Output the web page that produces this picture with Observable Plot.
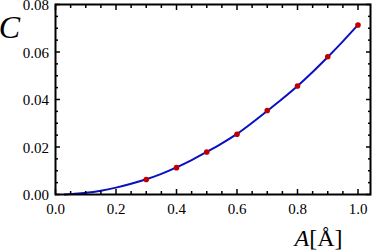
<!DOCTYPE html>
<html><head><meta charset="utf-8">
<script src="https://cdn.jsdelivr.net/npm/d3@7"></script>
<script src="https://cdn.jsdelivr.net/npm/@observablehq/plot@0.6"></script>
<style>body{margin:0;background:#fff}</style>
</head><body><div id="chart"></div>
<script>
// measured points
const pointA = [0.3, 0.4, 0.5, 0.6, 0.7, 0.8, 0.9, 1.0];
const pointC = [0.0063, 0.0113, 0.0179, 0.0254, 0.0354, 0.0457, 0.0580, 0.0714];
// fitted curve
const curveA = [0.03, 0.05, 0.1, 0.15, 0.2, 0.25, 0.3, 0.35, 0.4, 0.45, 0.5, 0.55, 0.6, 0.65, 0.7, 0.75, 0.8, 0.85, 0.9, 0.95, 1.0];
const curveC = [0.0, 0.0002, 0.0007, 0.0016, 0.0029, 0.0045, 0.0064, 0.0087, 0.0114, 0.0145, 0.0179, 0.0215, 0.0255, 0.0302, 0.0352, 0.0403, 0.0457, 0.0516, 0.0579, 0.0645, 0.0714];
// ticks
const xMajor = [0, 0.2, 0.4, 0.6, 0.8, 1.0];
const xMinor = [0.05, 0.1, 0.15, 0.25, 0.3, 0.35, 0.45, 0.5, 0.55, 0.65, 0.7, 0.75, 0.85, 0.9, 0.95];
const yMajor = [0, 0.02, 0.04, 0.06, 0.08];
const yMinor = [0.005, 0.01, 0.015, 0.025, 0.03, 0.035, 0.045, 0.05, 0.055, 0.065, 0.07, 0.075];
const xLabel = "A[Å]";
const yLabel = "C";

const points = pointA.map((a, i) => ({a, c: pointC[i]}));
const curve = curveA.map((a, i) => ({a, c: curveC[i]}));
const blank = () => "";
const serif = "Liberation Serif";
const fx = d3.format(".1f");
const fy = d3.format(".2f");

const plot = Plot.plot({
  width: 373, height: 252,
  marginLeft: 55, marginRight: 3, marginTop: 4, marginBottom: 58,
  style: {fontFamily: "Liberation Serif", background: "white"},
  x: {domain: [0, 1.0413], axis: null},
  y: {domain: [0, 0.08], axis: null},
  marks: [
    Plot.line(curve, {x: "a", y: "c", stroke: "#0a10c0", strokeWidth: 2, curve: "catmull-rom"}),
    Plot.dot(points, {x: "a", y: "c", r: 2.8, fill: "#c00000", stroke: "none"}),
    // tick labels (through the x / y scales)
    Plot.text(xMajor, {x: d => d, text: fx, frameAnchor: "bottom", dy: 15, lineAnchor: "middle", textAnchor: "middle", fontFamily: serif, fontSize: 15, fill: "black"}),
    Plot.text(yMajor, {y: d => d, text: fy, frameAnchor: "left", dx: -6.5, dy: 1, lineAnchor: "middle", textAnchor: "end", fontFamily: serif, fontSize: 15, fill: "black"}),
    // inward ticks (all four sides)
    Plot.axisX({ticks: xMajor, anchor: "bottom", tickSize: -5, tickPadding: 0, tickFormat: blank, label: null, strokeWidth: 1.5}),
    Plot.axisX({ticks: xMinor, anchor: "bottom", tickSize: -3, tickPadding: 0, tickFormat: blank, label: null, strokeWidth: 1.5}),
    Plot.axisX({ticks: xMajor, anchor: "top", tickSize: -5, tickPadding: 0, tickFormat: blank, label: null, strokeWidth: 1.5}),
    Plot.axisX({ticks: xMinor, anchor: "top", tickSize: -3, tickPadding: 0, tickFormat: blank, label: null, strokeWidth: 1.5}),
    Plot.axisY({ticks: yMajor, anchor: "left", tickSize: -5, tickPadding: 0, tickFormat: blank, label: null, strokeWidth: 1.5}),
    Plot.axisY({ticks: yMinor, anchor: "left", tickSize: -3, tickPadding: 0, tickFormat: blank, label: null, strokeWidth: 1.5}),
    Plot.axisY({ticks: yMajor, anchor: "right", tickSize: -5, tickPadding: 0, tickFormat: blank, label: null, strokeWidth: 1.5}),
    Plot.axisY({ticks: yMinor, anchor: "right", tickSize: -3, tickPadding: 0, tickFormat: blank, label: null, strokeWidth: 1.5}),
    Plot.frame({stroke: "black", strokeWidth: 2}),
    // axis titles
    Plot.text([yLabel], {frameAnchor: "top-left", dx: -46, dy: 33, lineAnchor: "bottom", textAnchor: "middle", fontSize: 32, fontStyle: "italic", fontFamily: serif}),
    Plot.text([xLabel], {frameAnchor: "bottom-right", dx: -28, dy: 51, lineAnchor: "bottom", textAnchor: "end", fontSize: 24, fontFamily: serif, className: "xlab"})
  ]
});
document.getElementById("chart").appendChild(plot);
// italicize the variable letter A in the x label
d3.select(plot).selectAll(".xlab text").each(function () {
  const t = d3.select(this);
  const s = t.text();
  t.text(null);
  t.append("tspan").attr("font-style", "italic").text(s.slice(0, 1));
  t.append("tspan").text(s.slice(1));
});
</script>
</body></html>
